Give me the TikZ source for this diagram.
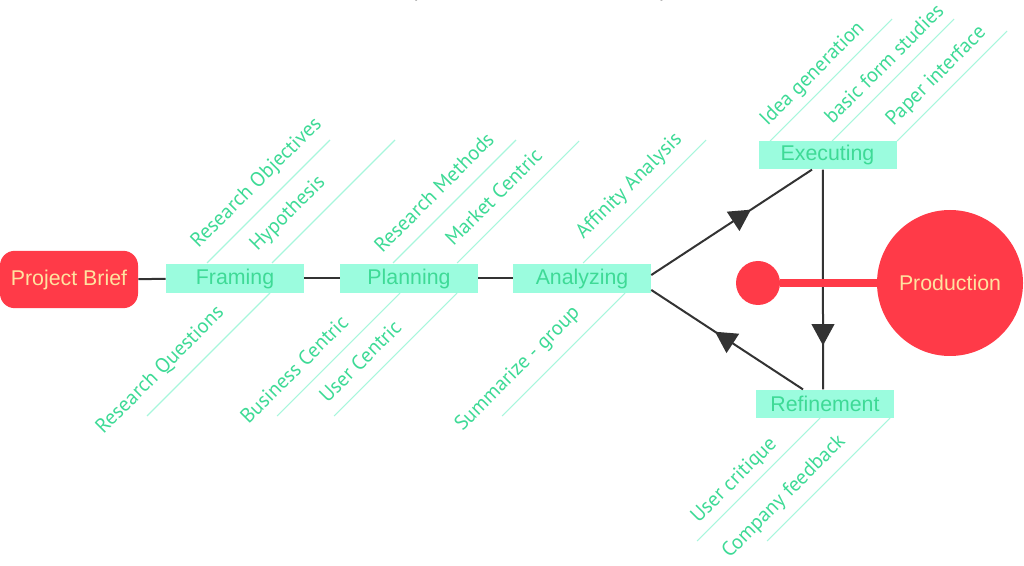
\documentclass[tikz,border=0pt]{standalone}
\usepackage{fontspec}
\setmainfont{Liberation Sans}
\newfontfamily\labelfont{PT Sans}
\usepackage{tikz}
\usetikzlibrary{calc,arrows.meta,positioning,decorations.markings}

\definecolor{fishred}{RGB}{255,58,72}
\definecolor{mintfill}{RGB}{155,252,222}
\definecolor{minttext}{RGB}{62,218,150}
\definecolor{mintline}{RGB}{168,246,220}
\definecolor{briefink}{RGB}{255,226,160}
\definecolor{spine}{RGB}{51,51,51}

\tikzset{
  stage/.style={fill=mintfill, text=minttext, minimum width=103.5pt, minimum height=21.5pt,
    inner sep=0pt, font=\fontsize{16}{18}\selectfont},
  bone/.style={mintline, line width=0.8pt},
  twig/.style={text=minttext, xshift=4pt, yshift=-1.5pt, rotate=45, anchor=base west,
    inner sep=0pt, font=\labelfont\fontsize{15.4}{17}\selectfont},
  flow/.style={spine, line width=1.5pt},
  midarrow/.style={postaction={decorate}, decoration={markings,
    mark=at position #1 with {\arrow{Triangle[length=16pt,width=17pt]}}}},
}

\begin{document}
\begin{tikzpicture}[x=0.75pt, y=-0.75pt]
  \useasboundingbox (0,0) rectangle (1024,566);

  % title line, cut off by the top edge
  \node[text=spine!85, anchor=base, font=\fontsize{16}{18}\selectfont] (lparen) at (414,-3) {(};
  \node[text=spine!85, anchor=base, font=\fontsize{16}{18}\selectfont] (rparen) at (664,-3) {)};

  % stages
  \node[fill=fishred, rounded corners=11pt, text=briefink, minimum width=103.5pt,
    minimum height=43pt, inner sep=0pt, font=\fontsize{16}{18}\selectfont] (brief) at (69,279.5) {Project Brief};
  \node[stage] (framing) at (235,278.5) {Framing};
  \node[stage] (planning) at (409,278.5) {Planning};
  \node[stage] (analyzing) at (582,278.5) {Analyzing};
  \node[stage] (executing) at (827.5,155) {Executing};
  \node[stage] (refinement) at (825,404) {Refinement};
  \node[circle, fill=fishred, minimum size=109.5pt, inner sep=0pt, text=briefink,
    font=\fontsize{16}{18}\selectfont] (production) at (950,283) {Production};
  \node[circle, fill=fishred, minimum size=33pt, inner sep=0pt] (dot) at (758,283) {};

  % spine
  \draw[flow] (brief) -- (framing);
  \draw[flow] (framing) -- (planning);
  \draw[flow] (planning) -- (analyzing);

  % loop between executing and refinement
  \draw[flow, midarrow=0.62] ([yshift=2.6pt]analyzing.east) -- ([xshift=-11.6pt]executing.south);
  \draw[flow, midarrow=0.8] ([xshift=-3.4pt]executing.south) -- ([xshift=-1.5pt]refinement.north);
  \draw[flow, midarrow=0.58] ([xshift=-16.5pt]refinement.north) -- ([yshift=-8.6pt]analyzing.east);
  \draw[fishred, line width=5.5pt] (dot) -- (production);

  % bones above the stages
  \foreach \sx/\sy/\len/\tx/\ty/\lbl in {207/263/123/193/247/Research Objectives,
      272/263/123/252/250/Hypothesis, 393/263/123/377/252/Research Methods,
      457/263/122/448/245/Market Centric, 583/263/123/578/238/Affinity Analysis,
      770/141/122/762/125/Idea generation, 832/141/122/827/123/basic form studies,
      897/141/110/888/125/Paper interface} {
    \draw[bone] (\sx,\sy) -- ++(\len,-\len);
    \node[twig] (up-\sx) at (\tx,\ty) {\lbl};
  }

  % bones below the stages
  \foreach \sx/\sy/\tx/\ty/\lbl in {270/293/98/433/Research Questions,
      400/293/243/423/Business Centric, 457/293/322/402/User Centric,
      625/293/457/430/Summarize - group, 820/418/693/522/User critique,
      890/418/724/557/Company feedback} {
    \draw[bone] (\sx,\sy) -- ++(-123,123);
    \node[twig] (down-\sx) at (\tx,\ty) {\lbl};
  }
\end{tikzpicture}
\end{document}
